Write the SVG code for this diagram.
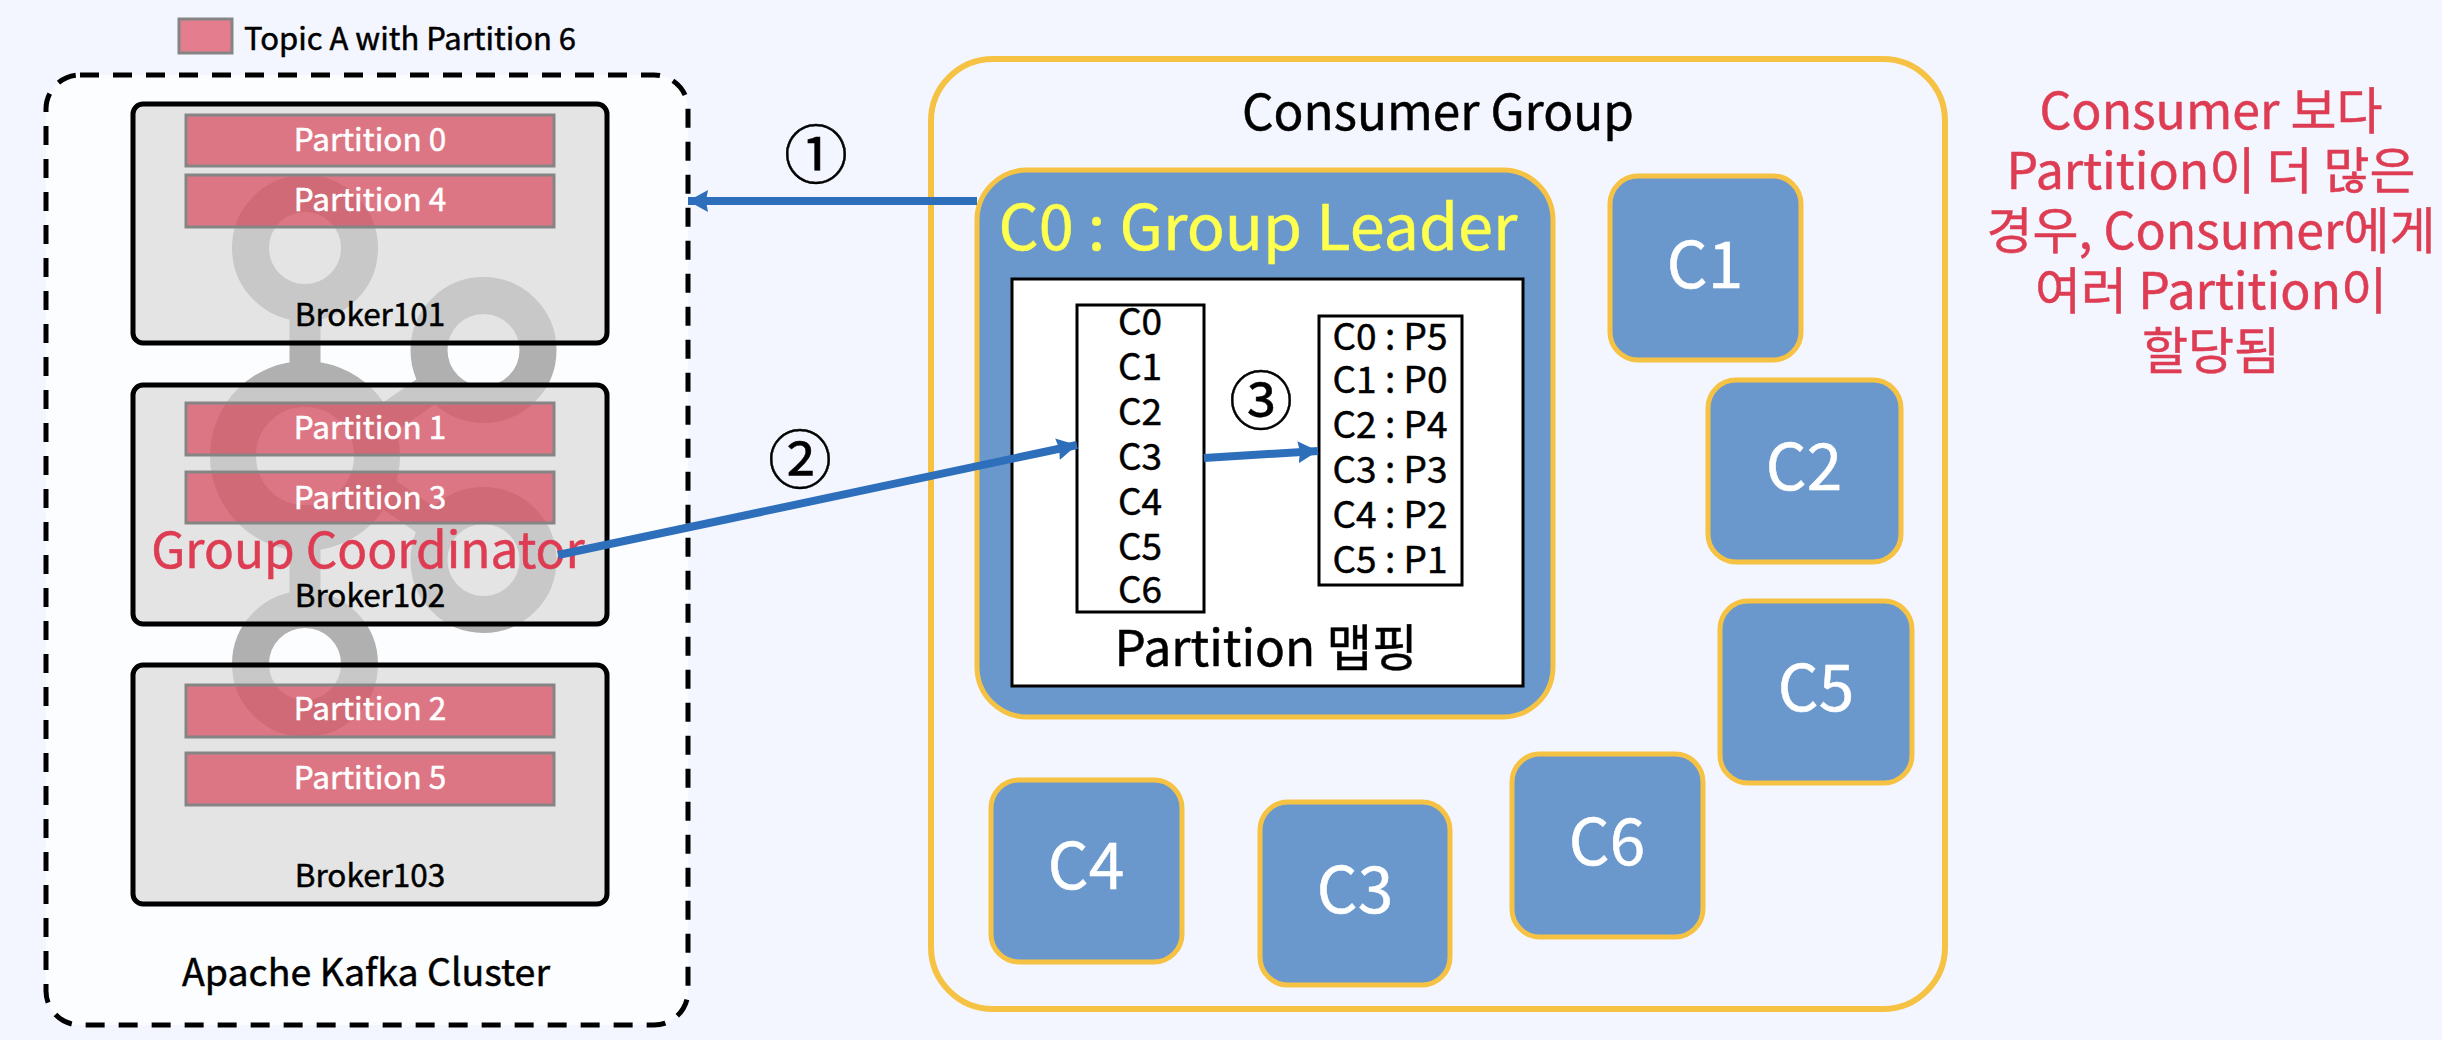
<svg xmlns="http://www.w3.org/2000/svg" width="2442" height="1040" viewBox="0 0 2442 1040">
<style>
text{font-family:"Noto Sans CJK KR","Noto Sans",sans-serif;text-anchor:middle;fill:#000;stroke:#000;stroke-width:.5}
.broker{fill:#d6d6d6;fill-opacity:.63;stroke:#000;stroke-width:5}
.part{fill:#d8233a;fill-opacity:.57;stroke:#858585;stroke-width:3}
.pt{fill:#fff;stroke:#fff;font-size:31.5px}
.bt{font-size:31.5px}
.c{fill:#6a98cd;stroke:#f6c243;stroke-width:5}
.ct{fill:#fff;stroke:#fff;font-size:64px}
.li{font-size:37px}
.red{fill:#dd3c52;stroke:#dd3c52}
.note{font-size:50px}
.conn{stroke:#2e6fbb;stroke-width:8;fill:none;marker-end:url(#arr)}
.ring{fill:none;stroke:#b0b0b0}
.num{font-size:64px}
</style>
<defs><marker id="arr" markerUnits="userSpaceOnUse" markerWidth="22" markerHeight="24" refX="20" refY="11" orient="auto"><path d="M0 0L20 11L0 22L2 11Z" fill="#2e6fbb"/></marker></defs>
<rect width="2442" height="1040" fill="#f3f6ff"/>
<g id="legend"><rect x="179" y="19" width="53" height="34" fill="#e47e8f" stroke="#858585" stroke-width="3"/><text x="410" y="50" style="font-size:31px">Topic A with Partition 6</text></g>
<g id="cluster"><rect x="46" y="75" width="642" height="950" rx="34" fill="#fcfdff" stroke="#000" stroke-width="5" stroke-dasharray="19 14"/><text x="366" y="986" style="font-size:37.500px">Apache Kafka Cluster</text></g>
<g id="kafka-logo">
<circle class="ring" cx="305" cy="248" r="54.5" stroke-width="37"/>
<circle class="ring" cx="483.500" cy="350" r="54.500" stroke-width="37"/>
<circle class="ring" cx="305" cy="456" r="72" stroke-width="46"/>
<circle class="ring" cx="483.500" cy="560" r="54.500" stroke-width="37"/>
<circle class="ring" cx="305" cy="664" r="54.500" stroke-width="37"/>
<path d="M305 300V370M305 540V600M385 420L440 382M385 492L440 530" stroke="#b0b0b0" stroke-width="31" fill="none"/>
</g>
<g id="broker101"><rect class="broker" x="133" y="104" width="474" height="239" rx="10"/><text class="bt" x="370" y="326">Broker101</text></g>
<g id="broker102"><rect class="broker" x="133" y="385" width="474" height="239" rx="10"/><text class="bt" x="370" y="607">Broker102</text></g>
<g id="broker103"><rect class="broker" x="133" y="665" width="474" height="239" rx="10"/><text class="bt" x="370" y="887">Broker103</text></g>
<g id="partition0"><rect class="part" x="186" y="115" width="368" height="51"/><text class="pt" x="370" y="151">Partition 0</text></g>
<g id="partition4"><rect class="part" x="186" y="175" width="368" height="52"/><text class="pt" x="370" y="211">Partition 4</text></g>
<g id="partition1"><rect class="part" x="186" y="403" width="368" height="52"/><text class="pt" x="370" y="439">Partition 1</text></g>
<g id="partition3"><rect class="part" x="186" y="472" width="368" height="51"/><text class="pt" x="370" y="509">Partition 3</text></g>
<g id="partition2"><rect class="part" x="186" y="685" width="368" height="52"/><text class="pt" x="370" y="720">Partition 2</text></g>
<g id="partition5"><rect class="part" x="186" y="753" width="368" height="52"/><text class="pt" x="370" y="789">Partition 5</text></g>
<g id="coordinator"><text class="red" x="368" y="568" style="font-size:49.500px">Group Coordinator</text></g>
<g id="consumer-group"><rect x="931" y="59" width="1014" height="950" rx="62" fill="none" stroke="#f6c243" stroke-width="6"/><text x="1438" y="130" style="font-size:49.500px">Consumer Group</text></g>
<g id="c0"><rect class="c" x="977" y="170" width="576" height="547" rx="50"/><text x="1258" y="250" style="font-size:63px;fill:#ffff4d;stroke:#ffff4d">C0 : Group Leader</text>
<rect x="1012" y="279" width="511" height="407" fill="#fff" stroke="#000" stroke-width="3"/>
<text x="1266" y="666" style="font-size:49.500px">Partition 맵핑</text></g>
<g id="member-list"><rect x="1077" y="305" width="127" height="307" fill="#fff" stroke="#000" stroke-width="3"/>
<text class="li" x="1140" y="335">C0</text><text class="li" x="1140" y="380">C1</text><text class="li" x="1140" y="425">C2</text><text class="li" x="1140" y="470">C3</text><text class="li" x="1140" y="515">C4</text><text class="li" x="1140" y="560">C5</text><text class="li" x="1140" y="603">C6</text></g>
<g id="assignment"><rect x="1319" y="316" width="143" height="269" fill="#fff" stroke="#000" stroke-width="3"/>
<text class="li" x="1390" y="350">C0 : P5</text><text class="li" x="1390" y="393">C1 : P0</text><text class="li" x="1390" y="438">C2 : P4</text><text class="li" x="1390" y="483">C3 : P3</text><text class="li" x="1390" y="528">C4 : P2</text><text class="li" x="1390" y="573">C5 : P1</text></g>
<g id="c1"><rect class="c" x="1610" y="176" width="191" height="184" rx="28"/><text class="ct" x="1705" y="288">C1</text></g>
<g id="c2"><rect class="c" x="1708" y="380" width="193" height="182" rx="28"/><text class="ct" x="1804" y="490">C2</text></g>
<g id="c5"><rect class="c" x="1720" y="601" width="192" height="182" rx="28"/><text class="ct" x="1816" y="711">C5</text></g>
<g id="c6"><rect class="c" x="1512" y="754" width="191" height="183" rx="28"/><text class="ct" x="1607" y="865">C6</text></g>
<g id="c3"><rect class="c" x="1260" y="802" width="190" height="183" rx="28"/><text class="ct" x="1355" y="913">C3</text></g>
<g id="c4"><rect class="c" x="991" y="780" width="191" height="182" rx="28"/><text class="ct" x="1086" y="889">C4</text></g>
<g id="connectors">
<path class="conn" d="M977 201H688"/>
<path class="conn" d="M558 555L1077 445"/>
<path class="conn" d="M1204 458L1318 451"/>
</g>
<g id="steps"><text class="num" x="816" y="178">①</text><text class="num" x="800" y="483">②</text><text class="num" x="1261" y="424">③</text></g>
<g id="note"><text class="red note" x="2211" y="129">Consumer 보다</text><text class="red note" x="2211" y="189">Partition이 더 많은</text><text class="red note" x="2211" y="249">경우, Consumer에게</text><text class="red note" x="2211" y="309">여러 Partition이</text><text class="red note" x="2211" y="369">할당됨</text></g>
</svg>
